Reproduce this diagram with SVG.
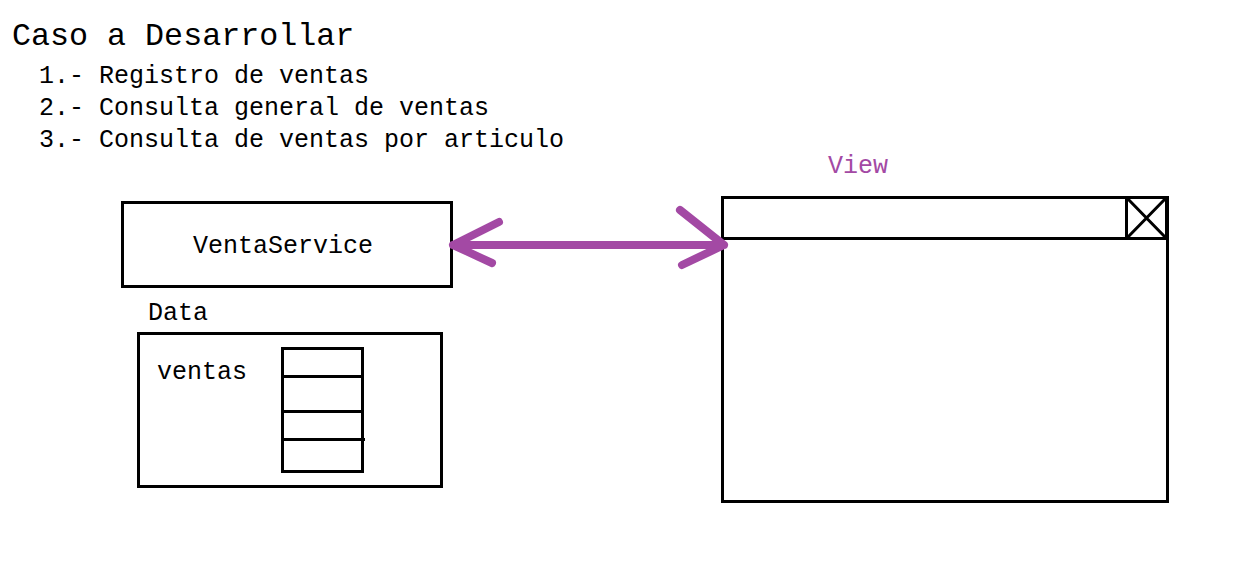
<svg xmlns="http://www.w3.org/2000/svg" width="1251" height="571" viewBox="0 0 1251 571">
<style>
text{font-family:"Liberation Mono","DejaVu Sans Mono",monospace;fill:#000}
.box{fill:none;stroke:#000;stroke-width:3}
.ln{stroke:#000;stroke-width:3;fill:none}
.arr{stroke:#A349A4;stroke-width:8;stroke-linecap:round;stroke-linejoin:round;fill:none}
.t{font-size:25px}
</style>
<rect width="1251" height="571" fill="#fff"/>
<g id="title">
<text x="12" y="45" font-size="31.7">Caso a Desarrollar</text>
<text class="t" x="39" y="83">1.- Registro de ventas</text>
<text class="t" x="39" y="115">2.- Consulta general de ventas</text>
<text class="t" x="39" y="147">3.- Consulta de ventas por articulo</text>
</g>
<g id="ventaService">
<rect class="box" x="122.5" y="202.5" width="329" height="84"/>
<text class="t" x="283" y="253" text-anchor="middle">VentaService</text>
</g>
<g id="data">
<text class="t" x="148" y="320">Data</text>
<rect class="box" x="138.5" y="333.5" width="303" height="153"/>
<text class="t" x="157" y="379">ventas</text>
<rect class="box" x="282.5" y="348.5" width="80" height="123"/>
<path class="ln" d="M282 376.5H362M282 411.5H362M282 439.5H365"/>
</g>
<g id="view">
<text class="t" x="828" y="173" style="fill:#A349A4">View</text>
<rect class="box" x="722.5" y="197.5" width="445" height="304"/>
<path class="ln" d="M722 238.5H1168"/>
<rect class="box" x="1126.5" y="197.5" width="40" height="41"/>
<path class="ln" d="M1127 198L1166 238M1166 198L1127 238" stroke-width="2"/>
</g>
<g id="connectors">
<path class="arr" d="M453 245H724M499 222L453 245L492 263M680 210L724 245L682 265"/>
</g>
</svg>
